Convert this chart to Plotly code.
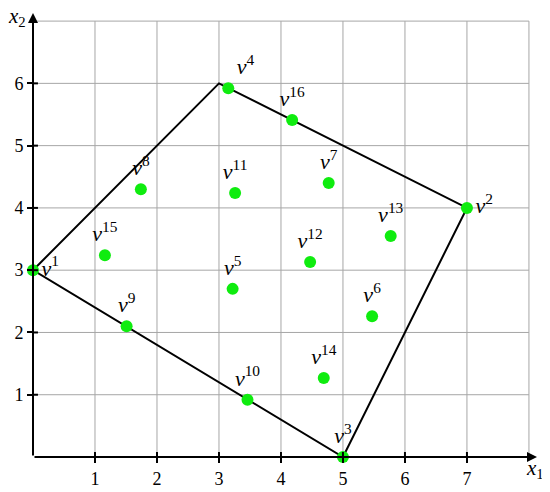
import plotly.graph_objects as go

# polygon corners (closed)
poly_x = [0, 3, 7, 5, 0]
poly_y = [3, 6, 4, 0, 3]

# labelled points v^1 .. v^16
point_ids = [1, 2, 3, 4, 5, 6, 7, 8, 9, 10, 11, 12, 13, 14, 15, 16]
point_x = [0, 7, 5, 3.15, 3.22, 5.47, 4.77, 1.74, 1.51, 3.46, 3.26, 4.47, 5.77, 4.69, 1.16, 4.18]
point_y = [3, 4, 0, 5.92, 2.70, 2.26, 4.40, 4.30, 2.10, 0.92, 4.24, 3.13, 3.55, 1.27, 3.24, 5.41]

x_ticks = [1, 2, 3, 4, 5, 6, 7]
y_ticks = [1, 2, 3, 4, 5, 6]
x_grid = [1, 2, 3, 4, 5, 6, 7, 8]
y_grid = [1, 2, 3, 4, 5, 6, 7]

SERIF = "Liberation Serif"
GREEN = "#0fec0f"
GRID = "#a6a6a6"

X_MAX, Y_MAX = 8.13, 7.13

positions = []
for i in point_ids:
    if i in (1, 2):
        positions.append("middle right")
    elif i == 4:
        positions.append("top right")
    else:
        positions.append("top center")

fig = go.Figure()

fig.add_trace(go.Scatter(
    x=poly_x, y=poly_y, mode="lines",
    line=dict(color="black", width=2),
    hoverinfo="skip", cliponaxis=False,
))

fig.add_trace(go.Scatter(
    x=point_x, y=point_y, mode="markers+text",
    marker=dict(color=GREEN, size=12),
    text=[f"<i>v</i><sup>{i}</sup>" for i in point_ids],
    textposition=positions,
    textfont=dict(family=SERIF, size=22, color="black"),
    cliponaxis=False,
))

shapes = []
for gx in x_grid:
    shapes.append(dict(type="line", xref="x", yref="y", x0=gx, x1=gx, y0=0, y1=7,
                       line=dict(color=GRID, width=1), layer="below"))
for gy in y_grid:
    shapes.append(dict(type="line", xref="x", yref="y", x0=0, x1=8, y0=gy, y1=gy,
                       line=dict(color=GRID, width=1), layer="below"))
# inner half of the crossing tick marks
for tx in x_ticks:
    shapes.append(dict(type="line", xref="x", yref="y", x0=tx, x1=tx, y0=0, y1=0.08,
                       line=dict(color="black", width=2)))
for ty in y_ticks:
    shapes.append(dict(type="line", xref="x", yref="y", x0=0, x1=0.08, y0=ty, y1=ty,
                       line=dict(color="black", width=2)))

annotations = [
    dict(x=X_MAX, y=0, ax=0, ay=0, xref="x", yref="y", axref="x", ayref="y",
         text="", showarrow=True, arrowhead=2, arrowsize=1, arrowwidth=2, arrowcolor="black"),
    dict(x=0, y=Y_MAX, ax=0, ay=0, xref="x", yref="y", axref="x", ayref="y",
         text="", showarrow=True, arrowhead=2, arrowsize=1, arrowwidth=2, arrowcolor="black"),
    dict(x=8.09 / X_MAX, y=-0.2 / Y_MAX, xref="paper", yref="paper",
         xanchor="center", yanchor="middle",
         text="<i>x</i><sub>1</sub>", showarrow=False,
         font=dict(family=SERIF, size=21, color="black")),
    dict(x=-0.26 / X_MAX, y=7.06 / Y_MAX, xref="paper", yref="paper",
         xanchor="center", yanchor="middle",
         text="<i>x</i><sub>2</sub>", showarrow=False,
         font=dict(family=SERIF, size=21, color="black")),
]

axis_common = dict(
    showgrid=False, zeroline=False, showline=False, automargin=False,
    ticks="outside", ticklen=5, tickwidth=2, tickcolor="black",
    tickfont=dict(family=SERIF, size=18, color="black"),
)

# page body adds an 8px offset, so the figure is 8px smaller than the window
fig.update_layout(
    template="none",
    width=542, height=484,
    margin=dict(l=25, r=13, t=5, b=35),
    paper_bgcolor="white", plot_bgcolor="white",
    showlegend=False,
    xaxis=dict(range=[0, X_MAX], tickvals=x_ticks, **axis_common),
    yaxis=dict(range=[0, Y_MAX], tickvals=y_ticks, **axis_common),
    shapes=shapes,
    annotations=annotations,
)

fig.write_html("out.html")
